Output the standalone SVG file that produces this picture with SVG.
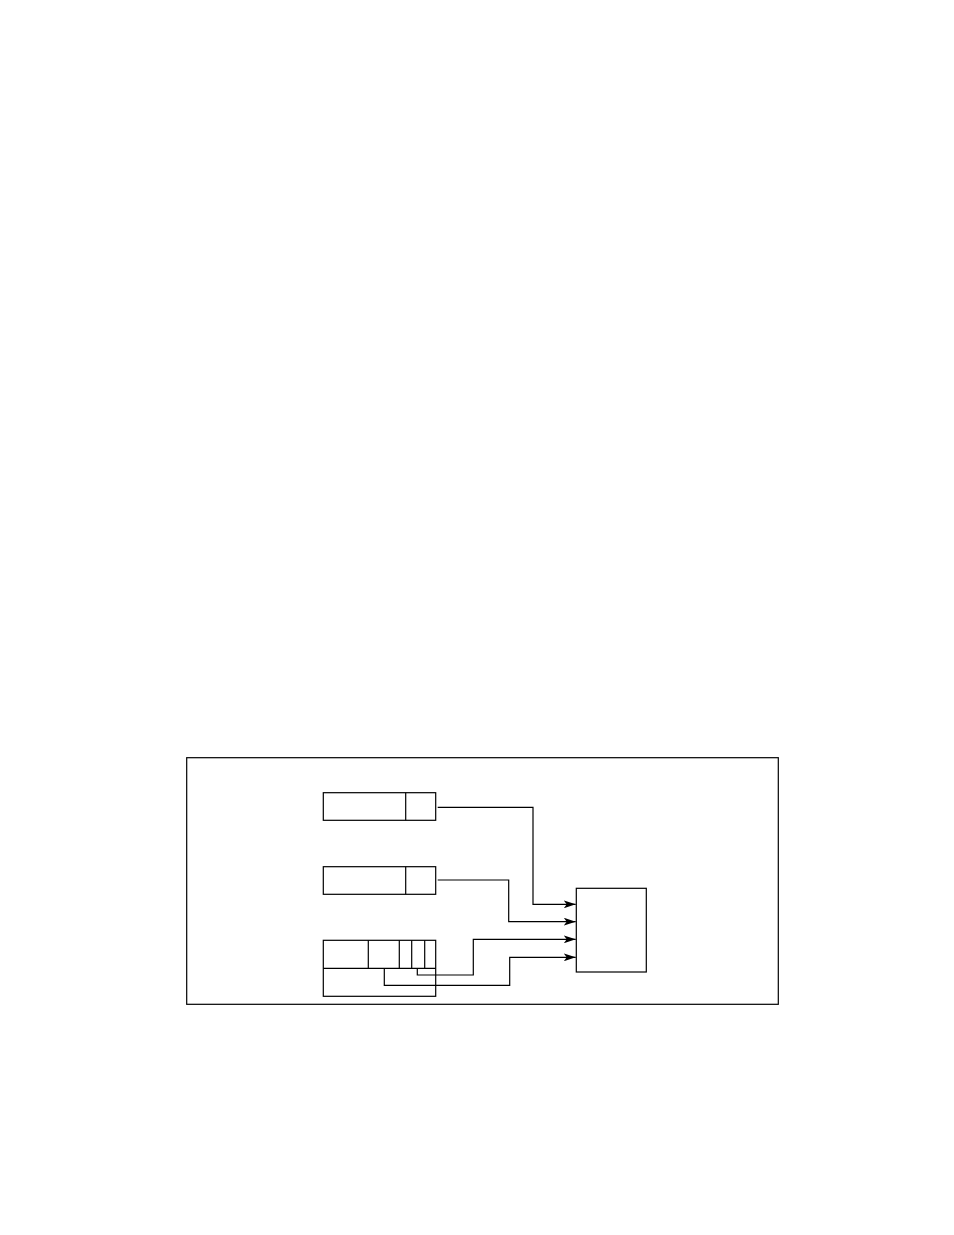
<svg xmlns="http://www.w3.org/2000/svg" width="954" height="1235" viewBox="0 0 954 1235">
<style>
.b{fill:none;stroke:#000;stroke-width:1.2}
.c{fill:none;stroke:#000;stroke-width:1.2}
</style>
<defs>
<marker id="ah" markerWidth="12" markerHeight="8" refX="12" refY="4" orient="auto" markerUnits="userSpaceOnUse">
<path d="M0,0 L12,4 L0,8 L3,4 Z" fill="#000"/>
</marker>
</defs>
<rect width="954" height="1235" fill="#fff"/>
<rect id="frame" class="b" x="186.7" y="757.7" width="591.6" height="246.6"/>
<g id="node1">
<rect class="b" x="323.3" y="792.7" width="112.4" height="27.6"/>
<line class="b" x1="405.7" y1="792.7" x2="405.7" y2="820.3"/>
</g>
<g id="node2">
<rect class="b" x="323.3" y="866.7" width="112.4" height="27.6"/>
<line class="b" x1="405.7" y1="866.7" x2="405.7" y2="894.3"/>
</g>
<g id="node3">
<rect class="b" x="323.3" y="940.3" width="112.4" height="56"/>
<line class="b" x1="323.3" y1="968.3" x2="435.7" y2="968.3"/>
<line class="b" x1="368.3" y1="940.3" x2="368.3" y2="968.3"/>
<line class="b" x1="399.3" y1="940.3" x2="399.3" y2="968.3"/>
<line class="b" x1="411.7" y1="940.3" x2="411.7" y2="968.3"/>
<line class="b" x1="424.7" y1="940.3" x2="424.7" y2="968.3"/>
</g>
<g id="node4">
<rect class="b" x="576.3" y="888.3" width="70" height="83.7"/>
</g>
<g id="connectors">
<polyline class="c" points="437.7,807.3 533,807.3 533,904.3 575.7,904.3" marker-end="url(#ah)"/>
<polyline class="c" points="437.7,880 508.7,880 508.7,921.7 575.7,921.7" marker-end="url(#ah)"/>
<polyline class="c" points="417.3,968.3 417.3,975 473.3,975 473.3,939.3 575.7,939.3" marker-end="url(#ah)"/>
<polyline class="c" points="384.3,968.3 384.3,985.3 509.7,985.3 509.7,957.3 575.7,957.3" marker-end="url(#ah)"/>
</g>
</svg>
